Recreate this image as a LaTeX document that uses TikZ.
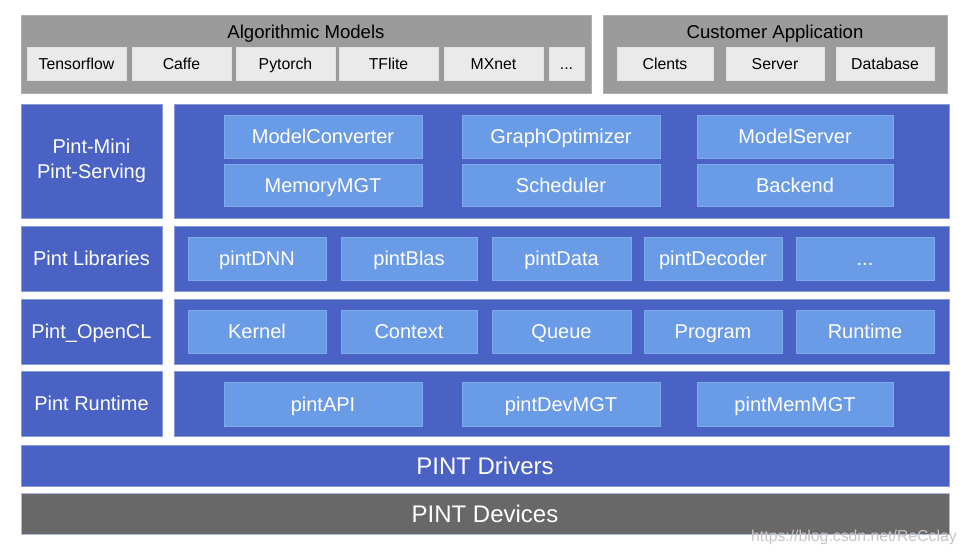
\documentclass[tikz,border=0pt]{standalone}
\usepackage{fontspec}
\setmainfont{Liberation Sans}
\definecolor{dblue}{HTML}{4A62C4}
\definecolor{lblue}{HTML}{6A9BE7}
\definecolor{tgray}{HTML}{9B9B9B}
\definecolor{igray}{HTML}{EAEAEA}
\definecolor{dgray}{HTML}{686868}
\definecolor{wmark}{HTML}{C4C4C4}
\newcommand\bx[7]{\node[#2, minimum width={#5pt-#3pt}, minimum height={#6pt-#4pt}] (#1) at ({(#3+#5)/2},{(#4+#6)/2}) {#7};}
\tikzset{
  base/.style={rectangle, inner sep=0pt, outer sep=0pt, line width=0.8pt, text depth=0pt},
  grayframe/.style={base, fill=tgray, draw=tgray!80!white},
  grayitem/.style={base, fill=igray, draw=igray!90!tgray, text=black, font=\fontsize{15.8}{18}\selectfont, text height=11.4pt},
  blueframe/.style={base, fill=dblue, draw=dblue!65!white, text=white, font=\fontsize{20}{25}\selectfont, text height=14.4pt},
  blueitem/.style={base, fill=lblue, draw=lblue!85!white, text=white, font=\fontsize{20}{25}\selectfont, text height=14.4pt},
  wide/.style={base, fill=dblue, draw=dblue!65!white, text=white, font=\fontsize{24}{28}\selectfont, text height=17.3pt},
  dev/.style={base, fill=dgray, draw=dblue!45!white, text=white, font=\fontsize{24}{28}\selectfont, text height=17.3pt},
  title/.style={inner sep=0pt, anchor=base, text=black, font=\fontsize{18.6}{22}\selectfont},
}
\begin{document}
\begin{tikzpicture}[x=1pt,y=-1pt]
\useasboundingbox (0,0) rectangle (967,552);
% top
\bx{am}{grayframe}{21}{15}{591}{93}{}
\bx{ca}{grayframe}{603}{15}{947}{93}{}
\node[title] (amt) at (306,38) {Algorithmic Models};
\node[title] (cat) at (775,38) {Customer Application};
\bx{tf}{grayitem}{27}{47}{126}{80}{Tensorflow}
\bx{caffe}{grayitem}{132}{47}{231}{80}{Caffe}
\bx{pyt}{grayitem}{236}{47}{335}{80}{Pytorch}
\bx{tfl}{grayitem}{339}{47}{438}{80}{TFlite}
\bx{mx}{grayitem}{444}{47}{543}{80}{MXnet}
\bx{amd}{grayitem}{549}{47}{584}{80}{...}
\bx{cl}{grayitem}{617}{47}{713}{80}{Clents}
\bx{srv}{grayitem}{726}{47}{824}{80}{Server}
\bx{db}{grayitem}{836}{47}{934}{80}{Database}
% row 1
\bx{pm}{blueframe}{21}{104}{162}{218}{}
\node[text=white, align=center, inner sep=0pt, font=\fontsize{20}{25}\selectfont] (pmt) at (91.5,161) {Pint-Mini\\Pint-Serving};
\bx{pmr}{blueframe}{174}{104}{949}{218}{}
\bx{mc}{blueitem}{224}{115}{422}{158}{ModelConverter}
\bx{mm}{blueitem}{224}{164}{422}{206}{MemoryMGT}
\bx{go}{blueitem}{462}{115}{660}{158}{GraphOptimizer}
\bx{sch}{blueitem}{462}{164}{660}{206}{Scheduler}
\bx{ms}{blueitem}{697}{115}{893}{158}{ModelServer}
\bx{be}{blueitem}{697}{164}{893}{206}{Backend}
% row 2
\bx{pl}{blueframe}{21}{226}{162}{291}{Pint Libraries}
\bx{plr}{blueframe}{174}{226}{949}{291}{}
\bx{dnn}{blueitem}{188}{237}{326}{280}{pintDNN}
\bx{blas}{blueitem}{341}{237}{477}{280}{pintBlas}
\bx{data}{blueitem}{492}{237}{631}{280}{pintData}
\bx{dec}{blueitem}{644}{237}{782}{280}{pintDecoder}
\bx{pld}{blueitem}{796}{237}{934}{280}{...}
% row 3
\bx{po}{blueframe}{21}{299}{162}{364}{Pint\_OpenCL}
\bx{por}{blueframe}{174}{299}{949}{364}{}
\bx{ker}{blueitem}{188}{310}{326}{353}{Kernel}
\bx{ctx}{blueitem}{341}{310}{477}{353}{Context}
\bx{que}{blueitem}{492}{310}{631}{353}{Queue}
\bx{prg}{blueitem}{644}{310}{782}{353}{Program}
\bx{rt}{blueitem}{796}{310}{934}{353}{Runtime}
% row 4
\bx{pr}{blueframe}{21}{371}{162}{436}{Pint Runtime}
\bx{prr}{blueframe}{174}{371}{949}{436}{}
\bx{api}{blueitem}{224}{382}{422}{426}{pintAPI}
\bx{dev}{blueitem}{462}{382}{660}{426}{pintDevMGT}
\bx{mem}{blueitem}{697}{382}{893}{426}{pintMemMGT}
% bottom
\bx{drv}{wide}{21}{445}{949}{486}{PINT Drivers}
\bx{dvc}{dev}{21}{493}{949}{534}{PINT Devices}
\node[inner sep=0pt, anchor=base west, text=wmark, font=\fontsize{15.8}{18}\selectfont] (wm) at (751,541) {https://blog.csdn.net/ReCclay};
\end{tikzpicture}
\end{document}
